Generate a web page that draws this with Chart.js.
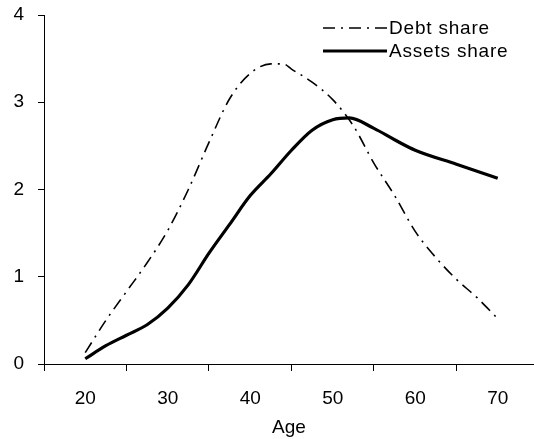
<!DOCTYPE html>
<html>
<head>
<meta charset="utf-8">
<script src="https://cdn.jsdelivr.net/npm/chart.js@4/dist/chart.umd.min.js"></script>
<style>
html,body{margin:0;padding:0;background:#fff;overflow:hidden;}
canvas{display:block;}
</style>
</head>
<body>
<canvas id="c" width="534" height="439"></canvas>
<script>
// ---- data ----
const debtAges   = [20, 22.5, 25, 27.5, 30, 32.5, 35, 37.5, 40, 42.5, 44, 45, 47.5, 50, 52.5, 55, 57.5, 60, 62.5, 65, 67.5, 70];
const debtShare  = [0.13, 0.5, 0.83, 1.16, 1.53, 2.0, 2.54, 3.04, 3.33, 3.44, 3.44, 3.38, 3.23, 3.03, 2.73, 2.3, 1.93, 1.52, 1.22, 0.97, 0.76, 0.52];
const assetAges  = [20, 22.5, 25, 27.5, 30, 32.5, 35, 37.5, 40, 42.5, 45, 47.5, 50, 52, 55, 57.5, 60, 65, 70];
const assetShare = [0.06, 0.21, 0.33, 0.45, 0.64, 0.91, 1.27, 1.6, 1.93, 2.18, 2.45, 2.68, 2.8, 2.82, 2.7, 2.57, 2.45, 2.29, 2.13];
const seriesLabels = ['Debt share', 'Assets share'];
const xTickLabels = [20, 30, 40, 50, 60, 70];
const yTickLabels = [0, 1, 2, 3, 4];
const xTitle = 'Age';

const FONT = 'Liberation Sans, Arial, sans-serif';
const FS = 19;

const toPts = (xs, ys) => xs.map((x, i) => ({x: x, y: ys[i]}));

const legendPlugin = {
  id: 'manualLegend',
  afterDraw(chart) {
    const ctx = chart.ctx;
    const rows = [28, 51];
    chart.data.datasets.forEach((ds, i) => {
      const y = rows[i];
      ctx.save();
      ctx.strokeStyle = ds.borderColor;
      ctx.lineWidth = ds.borderWidth;
      ctx.setLineDash(ds.borderDash || []);
      ctx.beginPath();
      ctx.moveTo(323, y);
      ctx.lineTo(387, y);
      ctx.stroke();
      ctx.setLineDash([]);
      ctx.fillStyle = '#000';
      ctx.font = FS + 'px ' + FONT;
      if ('letterSpacing' in ctx) ctx.letterSpacing = '0.8px';
      ctx.textBaseline = 'middle';
      ctx.textAlign = 'left';
      ctx.fillText(ds.label, 389, y + 1);
      ctx.restore();
    });
  }
};

new Chart(document.getElementById('c'), {
  type: 'line',
  data: {
    datasets: [
      {
        label: seriesLabels[0],
        data: toPts(debtAges, debtShare),
        borderColor: '#000',
        borderWidth: 1.6,
        borderDash: [12, 6, 2, 6],
        pointRadius: 0,
        fill: false,
        tension: 0.4,
        cubicInterpolationMode: 'monotone'
      },
      {
        label: seriesLabels[1],
        data: toPts(assetAges, assetShare),
        borderColor: '#000',
        borderWidth: 3.2,
        pointRadius: 0,
        fill: false,
        tension: 0.4,
        cubicInterpolationMode: 'monotone'
      }
    ]
  },
  options: {
    responsive: false,
    animation: false,
    devicePixelRatio: 1,
    layout: { padding: { top: 15, right: 0, left: 0, bottom: 0 } },
    plugins: { legend: { display: false }, tooltip: { enabled: false } },
    scales: {
      x: {
        type: 'linear',
        min: 15,
        max: 74.4,
        afterFit(s) { s.height = 75; s.paddingLeft = 0; s.paddingRight = 0; },
        border: { color: '#000', width: 1 },
        grid: {
          display: true,
          drawOnChartArea: false,
          tickLength: 7,
          tickColor: (c) => (Math.abs(((c.tick.value - 15) % 10)) < 1e-6 ? '#000' : 'rgba(0,0,0,0)')
        },
        ticks: {
          stepSize: 5,
          includeBounds: false,
          autoSkip: false,
          maxRotation: 0,
          padding: 16,
          color: '#000',
          font: { family: FONT, size: FS },
          callback: (v) => (xTickLabels.includes(v) ? String(v) : '')
        },
        title: {
          display: true,
          text: xTitle,
          color: '#000',
          font: { family: FONT, size: FS },
          padding: { top: 0, bottom: 0 }
        }
      },
      y: {
        min: 0,
        max: 4,
        afterFit(s) { s.width = 44; s.paddingTop = 0; s.paddingBottom = 0; },
        border: { color: '#000', width: 1 },
        grid: {
          display: true,
          drawOnChartArea: false,
          tickLength: 6,
          tickColor: '#000'
        },
        ticks: {
          stepSize: 1,
          padding: 14,
          color: '#000',
          font: { family: FONT, size: FS },
          callback: (v) => (yTickLabels.includes(v) ? String(v) : '')
        }
      }
    }
  },
  plugins: [legendPlugin]
});
</script>
</body>
</html>
